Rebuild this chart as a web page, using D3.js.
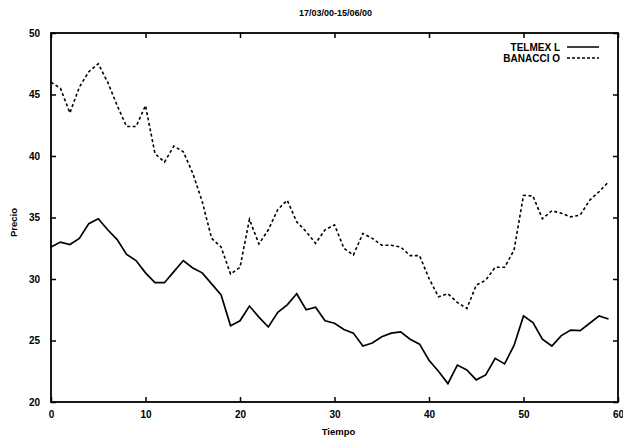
<!DOCTYPE html>
<html>
<head>
<meta charset="utf-8">
<script src="https://cdn.jsdelivr.net/npm/d3@7"></script>
<style>
  body { margin: 0; background: #fff; }
  svg { display: block; }
  text { font-family: "Liberation Sans", Arial, sans-serif; font-weight: bold; fill: #000; }
</style>
</head>
<body>
<svg id="chart" width="623" height="438"></svg>
<script>
/* global d3 */

const title = '17/03/00-15/06/00';
const seriesNames = ['TELMEX L', 'BANACCI O'];
const xTicks = [0, 10, 20, 30, 40, 50, 60];
const yTicks = [20, 25, 30, 35, 40, 45, 50];

// one value per day, index 0..59
const telmex = [
  32.6, 33.0, 32.8, 33.3, 34.5, 34.9, 34.0, 33.2, 32.0, 31.5,
  30.5, 29.7, 29.7, 30.6, 31.5, 30.9, 30.5, 29.6, 28.7, 26.2,
  26.6, 27.8, 26.9, 26.1, 27.3, 27.9, 28.8, 27.5, 27.7, 26.6,
  26.4, 25.9, 25.6, 24.55, 24.8, 25.3, 25.6, 25.7, 25.1, 24.7,
  23.4, 22.5, 21.5, 23.0, 22.6, 21.8, 22.2, 23.55, 23.1, 24.6,
  27.0, 26.45, 25.1, 24.55, 25.4, 25.85, 25.8, 26.4, 27.0, 26.75
];
const banacci = [
  46.0, 45.5, 43.5, 45.6, 46.85, 47.5, 46.0, 44.1, 42.4, 42.4,
  44.1, 40.2, 39.5, 40.8, 40.35, 38.6, 36.3, 33.3, 32.6, 30.4,
  30.95, 34.85, 32.85, 34.0, 35.65, 36.4, 34.65, 33.85, 32.9, 34.0,
  34.4, 32.5, 31.95, 33.7, 33.3, 32.75, 32.75, 32.6, 31.9, 31.9,
  30.05, 28.55, 28.8, 28.1, 27.6, 29.5, 29.9, 30.95, 30.95, 32.35,
  36.8, 36.75, 34.9, 35.55, 35.35, 35.05, 35.2, 36.4, 37.1, 37.9
];

const svg = d3.select('#chart');
const margin = { top: 33, right: 5, bottom: 36, left: 51 };
const width = 623 - margin.left - margin.right;
const height = 438 - margin.top - margin.bottom;

const x = d3.scaleLinear().domain([0, 60]).range([0, width]);
const y = d3.scaleLinear().domain([20, 50]).range([height, 0]);

const g = svg.append('g').attr('transform', `translate(${margin.left},${margin.top})`);

// gnuplot-style ticks: inward, mirrored on all four sides
const tick = 5;
g.append('g')
  .attr('transform', `translate(0,${height})`)
  .call(d3.axisBottom(x).tickValues(xTicks).tickSizeInner(-tick).tickSizeOuter(0).tickPadding(9))
  .call(a => a.select('.domain').remove());
g.append('g')
  .call(d3.axisTop(x).tickValues(xTicks).tickSizeInner(-tick).tickSizeOuter(0).tickFormat(''))
  .call(a => a.select('.domain').remove());
g.append('g')
  .call(d3.axisLeft(y).tickValues(yTicks).tickSizeInner(-tick).tickSizeOuter(0).tickPadding(11))
  .call(a => a.select('.domain').remove());
g.append('g')
  .attr('transform', `translate(${width},0)`)
  .call(d3.axisRight(y).tickValues(yTicks).tickSizeInner(-tick).tickSizeOuter(0).tickFormat(''))
  .call(a => a.select('.domain').remove());

g.selectAll('.tick line').attr('stroke', '#000').attr('stroke-width', 1.5);
g.selectAll('.tick text').style('font-size', '10px').style('font-weight', 'bold')
  .style('font-family', '"Liberation Sans", Arial, sans-serif');

g.append('rect')
  .attr('width', width)
  .attr('height', height)
  .attr('fill', 'none')
  .attr('stroke', '#000')
  .attr('stroke-width', 1.8);

const line = d3.line().x((d, i) => x(i)).y(d => y(d));

g.append('path')
  .datum(telmex)
  .attr('d', line)
  .attr('fill', 'none')
  .attr('stroke', '#000')
  .attr('stroke-width', 1.7);

g.append('path')
  .datum(banacci)
  .attr('d', line)
  .attr('fill', 'none')
  .attr('stroke', '#000')
  .attr('stroke-width', 1.6)
  .attr('stroke-dasharray', '3,2.5');

// legend
const legend = g.append('g').attr('transform', `translate(${width - 58},14)`);
seriesNames.forEach((name, i) => {
  const row = legend.append('g').attr('transform', `translate(0,${i * 11})`);
  row.append('text')
    .attr('x', 0)
    .attr('y', 3.5)
    .attr('text-anchor', 'end')
    .style('font-size', '10px')
    .text(name);
  row.append('line')
    .attr('x1', 7)
    .attr('x2', 39)
    .attr('stroke', '#000')
    .attr('stroke-width', 1.5)
    .attr('stroke-dasharray', i === 0 ? null : '3,2');
});

svg.append('text')
  .attr('x', margin.left + width / 2 + 1)
  .attr('y', 16)
  .attr('text-anchor', 'middle')
  .style('font-size', '9px')
  .text(title);

svg.append('text')
  .attr('x', margin.left + width / 2 + 4)
  .attr('y', 435)
  .attr('text-anchor', 'middle')
  .style('font-size', '9.5px')
  .text('Tiempo');

svg.append('text')
  .attr('transform', `translate(17,${margin.top + height / 2 + 5}) rotate(-90)`)
  .attr('text-anchor', 'middle')
  .style('font-size', '9.5px')
  .text('Precio');
</script>
</body>
</html>
